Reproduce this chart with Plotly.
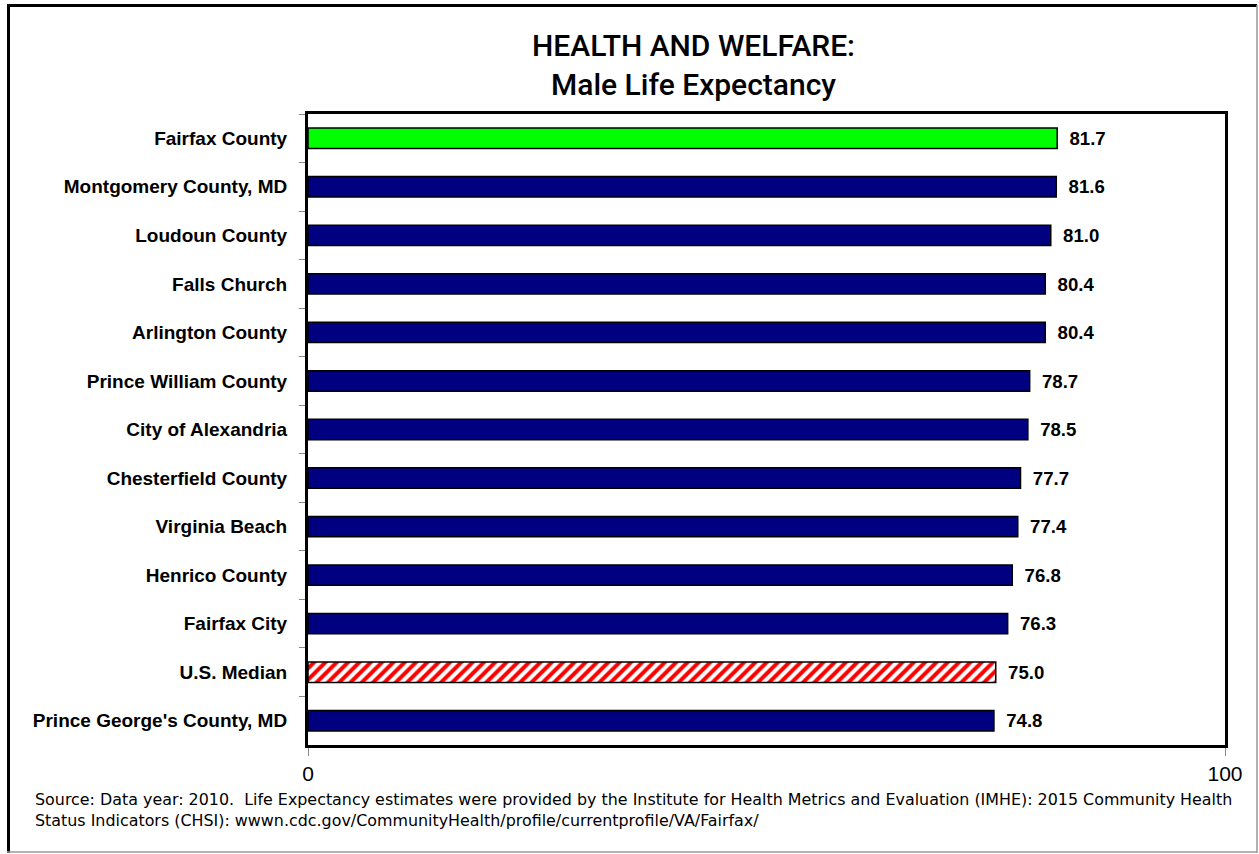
import plotly.graph_objects as go

categories = ["Fairfax County", "Montgomery County, MD", "Loudoun County", "Falls Church",
              "Arlington County", "Prince William County", "City of Alexandria",
              "Chesterfield County", "Virginia Beach", "Henrico County", "Fairfax City",
              "U.S. Median", "Prince George's County, MD"]
values = [81.7, 81.6, 81.0, 80.4, 80.4, 78.7, 78.5, 77.7, 77.4, 76.8, 76.3, 75.0, 74.8]
highlight = "Fairfax County"
benchmark = "U.S. Median"
x_ticks = [0, 100]

W, H = 1259, 854
L, R, T, B = 308, 1225, 114, 745

groups = {
    "hl": [(c, v) for c, v in zip(categories, values) if c == highlight],
    "bm": [(c, v) for c, v in zip(categories, values) if c == benchmark],
    "other": [(c, v) for c, v in zip(categories, values) if c not in (highlight, benchmark)],
}

fig = go.Figure()
label_font = dict(family="Liberation Sans", size=21, color="black", weight="bold")

def add_group(items, marker):
    ys = [c for c, _ in items]
    xs = [v for _, v in items]
    fig.add_trace(go.Bar(
        y=ys, x=xs, orientation="h", width=0.42, marker=marker,
        text=[f"{v:.1f}" for v in xs], texttemplate="\u2002%{text}",
        textposition="outside", textfont=label_font, cliponaxis=False,
        hoverinfo="x+y",
    ))

add_group(groups["other"], dict(color="#000080", line=dict(color="black", width=1.5)))
add_group(groups["hl"], dict(color="#00ff00", line=dict(color="black", width=1.5)))
add_group(groups["bm"], dict(color="#ffffff", line=dict(color="black", width=1.5),
                             pattern=dict(shape="/", fgcolor="#ff0000", bgcolor="#ffffff",
                                          fillmode="replace", size=8, solidity=0.5)))

def px(x):
    return (x - L) / (R - L)

def py(y):
    return (B - y) / (B - T)

fig.update_layout(
    width=W, height=H,
    margin=dict(l=L, r=W - R, t=T, b=H - B, autoexpand=False),
    paper_bgcolor="white", plot_bgcolor="white",
    showlegend=False, barmode="overlay",
    font=dict(family="Liberation Sans", color="black"),
    xaxis=dict(range=[0, 100], tickvals=x_ticks, ticks="outside", ticklen=8,
               tickcolor="#888888", tickwidth=1, showgrid=False, zeroline=False,
               showline=True, linecolor="black", linewidth=3, mirror=True,
               tickfont=dict(size=21, family="Liberation Sans"), ticklabelstandoff=0),
    yaxis=dict(categoryorder="array", categoryarray=categories,
               autorange="reversed", ticks="outside", tickson="boundaries", ticklen=6,
               tickcolor="#888888", tickwidth=1, showgrid=False,
               showline=True, linecolor="black", linewidth=3, mirror=True,
               tickfont=dict(size=19, family="Liberation Sans", weight="bold"),
               ticklabelstandoff=14),
)

annotations = [
    dict(text="HEALTH AND WELFARE:<br>Male Life Expectancy", x=px(693), y=py(64.5),
         xref="paper", yref="paper", xanchor="center", yanchor="middle", showarrow=False,
         font=dict(size=30, family="Roboto", weight=500, color="black")),
    dict(text="Source: Data year: 2010.  Life Expectancy estimates were provided by the Institute for Health Metrics and Evaluation (IMHE): 2015 Community Health<br>Status Indicators (CHSI): wwwn.cdc.gov/CommunityHealth/profile/currentprofile/VA/Fairfax/",
         x=px(33), y=py(788), xref="paper", yref="paper", xanchor="left", yanchor="top",
         align="left", showarrow=False,
         font=dict(size=15.9, family="DejaVu Sans", color="black")),
]
fig.update_layout(annotations=annotations)

# outer frame: thick black left/top, thin grey right/bottom
fig.add_shape(type="line", xref="paper", yref="paper", x0=px(8.5), x1=px(8.5),
              y0=py(853), y1=py(5), line=dict(color="black", width=3))
fig.add_shape(type="line", xref="paper", yref="paper", x0=px(7), x1=px(1257),
              y0=py(5.5), y1=py(5.5), line=dict(color="black", width=3))
fig.add_shape(type="line", xref="paper", yref="paper", x0=px(1257), x1=px(1257),
              y0=py(853), y1=py(5), line=dict(color="#999999", width=1.5))
fig.add_shape(type="line", xref="paper", yref="paper", x0=px(7), x1=px(1257),
              y0=py(852), y1=py(852), line=dict(color="#999999", width=1.5))

fig.write_html("out.html", config={"displayModeBar": False},
               post_script="document.body.style.margin='0px';")
